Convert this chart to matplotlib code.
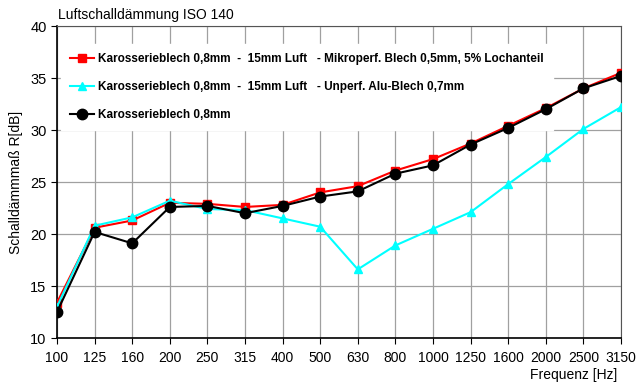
import numpy as np
import matplotlib.pyplot as plt

freqs = ['100', '125', '160', '200', '250', '315', '400', '500', '630', '800',
         '1000', '1250', '1600', '2000', '2500', '3150']
red = [13.4, 20.6, 21.3, 23.0, 22.9, 22.6, 22.8, 24.0, 24.6, 26.1,
       27.2, 28.7, 30.4, 32.1, 34.0, 35.5]
cyan = [13.0, 20.8, 21.6, 23.2, 22.4, 22.3, 21.5, 20.7, 16.6, 18.9,
        20.5, 22.1, 24.8, 27.4, 30.1, 32.2]
black = [12.5, 20.2, 19.1, 22.6, 22.7, 22.0, 22.7, 23.6, 24.1, 25.8,
         26.6, 28.6, 30.2, 32.0, 34.0, 35.2]
labels = ['Karosserieblech 0,8mm  -  15mm Luft   - Mikroperf. Blech 0,5mm, 5% Lochanteil',
          'Karosserieblech 0,8mm  -  15mm Luft   - Unperf. Alu-Blech 0,7mm',
          'Karosserieblech 0,8mm']

plt.rcParams['font.family'] = ['Liberation Sans', 'DejaVu Sans']
fig = plt.figure(figsize=(6.37, 3.82), dpi=100)
ax = fig.add_axes([57 / 637, 44 / 382, 564 / 637, 312 / 382])

x = np.arange(len(freqs))
ax.plot(x, red, color='#ff0000', marker='s', ms=5.5, lw=1.5, label=labels[0], zorder=3)
ax.plot(x, cyan, color='#00ffff', marker='^', ms=6, lw=1.5, label=labels[1], zorder=3)
ax.plot(x, black, color='black', marker='o', ms=7.5, lw=1.5, label=labels[2], zorder=4)

ax.set_xlim(0, len(freqs) - 1)
ax.set_ylim(10, 40)
ax.set_xticks(x)
ax.set_xticklabels(freqs, fontsize=10)
ax.set_yticks(np.arange(10, 41, 5))
ax.tick_params(axis='y', labelsize=10.5, direction='out', length=4)
ax.tick_params(axis='x', direction='out', length=4, pad=5)
ax.grid(True, color='#a0a0a0', lw=0.9)
ax.set_axisbelow(True)
for s in ['top', 'right']:
    ax.spines[s].set_color('#555555')
ax.spines['left'].set_linewidth(1.2)
ax.spines['bottom'].set_linewidth(1.2)

ax.set_ylabel('Schalldämmmaß R[dB]', fontsize=10, labelpad=5)
ax.set_xlabel('Frequenz [Hz]', fontsize=10, ha='right', va='top')
ax.xaxis.set_label_coords(560 / 564, -30 / 312)
fig.text(58 / 637, 1 - 15 / 382, 'Luftschalldämmung ISO 140', fontsize=10, va='center')

leg = ax.legend(loc='upper left', bbox_to_anchor=(0.0, 0.955), frameon=True,
                prop={'weight': 'bold', 'size': 8.5}, handlelength=2.0,
                handletextpad=0.4, labelspacing=1.35, borderaxespad=0.3,
                borderpad=0.8, fancybox=False)
leg.get_frame().set_edgecolor('white')
leg.get_frame().set_alpha(1)
leg.set_zorder(2.5)

fig.savefig('out.png', dpi=100)
